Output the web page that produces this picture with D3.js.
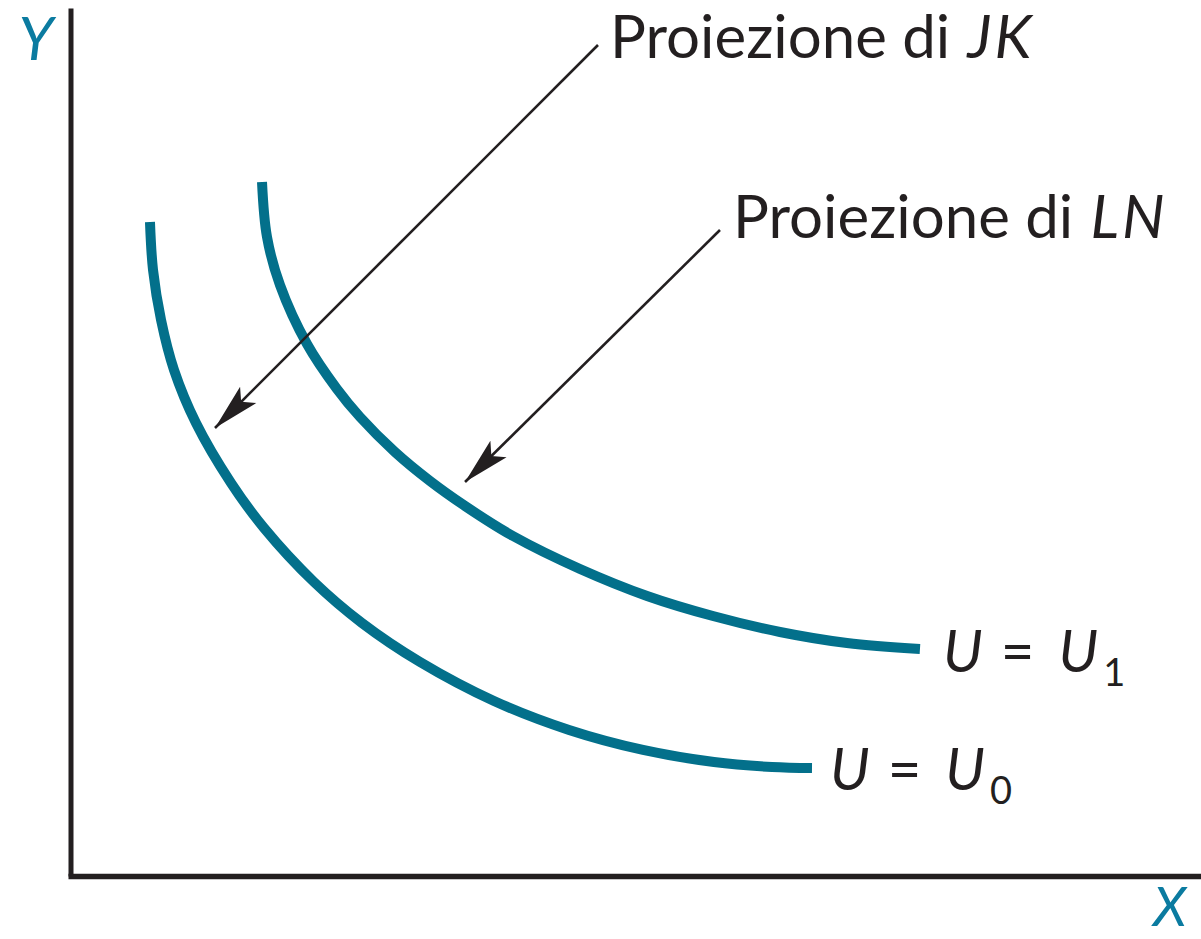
<!DOCTYPE html>
<html>
<head>
<meta charset="utf-8">
<script src="https://cdn.jsdelivr.net/npm/d3@7"></script>
<style>
  html, body { margin: 0; padding: 0; background: #fff; }
  svg { display: block; }
  text { font-family: Lato, "Open Sans", sans-serif; fill: #231f20; }
</style>
</head>
<body>
<script>
// Indifference curves (x, y in chart units 0-100)
const curveU0 = [
    [7.03, 75.35], [7.30, 69.82], [8.01, 64.06], [9.16, 58.29], [11.10, 52.19],
    [14.20, 45.28], [17.12, 40.09], [21.54, 33.87], [25.78, 29.15], [30.92, 24.65],
    [37.46, 20.16], [44.10, 16.82], [50.64, 14.52], [56.92, 13.13], [62.05, 12.56],
    [65.59, 12.44]
];
const curveU1 = [
    [16.94, 79.95], [17.38, 73.62], [18.53, 68.09], [20.92, 61.29], [23.57, 56.11],
    [25.61, 52.88], [28.70, 48.85], [31.80, 45.51], [34.90, 42.63], [39.14, 39.17],
    [45.07, 35.37], [51.00, 32.26], [56.83, 29.95], [62.76, 28.11], [68.69, 26.84],
    [75.14, 26.15]
];

// Curve labels: [x, y, subscript]
const curveLabels = [
    [67.18, 9.91, "0"],
    [77.18, 23.50, "1"]
];

// Arrows: from label to curve
const arrowFrom = [[46.66, 95.74], [57.45, 74.42]];
const arrowTo = [[12.78, 51.61], [34.90, 45.39]];
const arrowText = ["Proiezione di ", "Proiezione di "];
const arrowTextItalic = ["JK", "LN"];
const arrowTextPos = [[47.72, 94.24], [58.60, 73.50]];

const width = 1201, height = 939;
const teal = "#03708b";

const svg = d3.select("body").append("svg")
    .attr("width", width)
    .attr("height", height);

const xScale = d3.scaleLinear().domain([0, 100]).range([70.5, 1201]);
const yScale = d3.scaleLinear().domain([0, 100]).range([876, 8]);

// arrowhead
svg.append("defs").append("marker")
    .attr("id", "head")
    .attr("markerUnits", "userSpaceOnUse")
    .attr("viewBox", "-48 -14 50 28")
    .attr("refX", 0).attr("refY", 0)
    .attr("markerWidth", 50).attr("markerHeight", 28)
    .attr("orient", "auto")
    .append("path")
    .attr("d", "M0,0 L-47,-11.5 L-37,0 L-47,11.5 Z")
    .attr("fill", "#231f20");

// Axes (no ticks)
svg.append("g")
    .attr("transform", `translate(${xScale(0)},0)`)
    .call(d3.axisLeft(yScale).tickValues([]).tickSizeOuter(0))
    .select(".domain")
    .attr("stroke", "#231f20")
    .attr("stroke-width", 5);

svg.append("g")
    .attr("transform", `translate(0,${yScale(0)})`)
    .call(d3.axisBottom(d3.scaleLinear().domain([0, 100]).range([xScale(0) - 2.5, 1201])).tickValues([]).tickSizeOuter(0))
    .select(".domain")
    .attr("stroke", "#231f20")
    .attr("stroke-width", 5.5);

// Axis labels
svg.append("text")
    .attr("x", xScale(0) - 52)
    .attr("y", yScale(100) + 52)
    .attr("font-size", 60)
    .attr("font-style", "italic")
    .style("fill", "#0b7ba0")
    .text("Y");

svg.append("text")
    .attr("x", xScale(100) - 48)
    .attr("y", yScale(0) + 50)
    .attr("font-size", 55)
    .attr("font-style", "italic")
    .style("fill", "#0b7ba0")
    .text("X");

// Curves
const line = d3.line()
    .x(d => xScale(d[0]))
    .y(d => yScale(d[1]))
    .curve(d3.curveCatmullRom.alpha(0.5));

svg.selectAll("path.curve")
    .data([curveU0, curveU1])
    .enter().append("path")
    .attr("class", "curve")
    .attr("d", line)
    .attr("fill", "none")
    .attr("stroke", teal)
    .attr("stroke-width", 10)
    .attr("stroke-linecap", "butt");

// Curve labels
const lbl = svg.selectAll("text.ulabel")
    .data(curveLabels)
    .enter().append("text")
    .attr("class", "ulabel")
    .attr("x", d => xScale(d[0]))
    .attr("y", d => yScale(d[1]))
    .attr("font-size", 58);

lbl.append("tspan").attr("font-style", "italic").text("U");
lbl.append("tspan").attr("dx", 18).text("=");
lbl.append("tspan").attr("dx", 24).attr("font-style", "italic").text("U");
lbl.append("tspan").attr("font-size", 38).attr("dy", 14).attr("dx", 5).text(d => d[2]);

// Arrows
svg.selectAll("line.arrow")
    .data(arrowFrom)
    .enter().append("line")
    .attr("class", "arrow")
    .attr("x1", d => xScale(d[0]))
    .attr("y1", d => yScale(d[1]))
    .attr("x2", (d, i) => xScale(arrowTo[i][0]))
    .attr("y2", (d, i) => yScale(arrowTo[i][1]))
    .attr("stroke", "#231f20")
    .attr("stroke-width", 2.6)
    .attr("marker-end", "url(#head)");

const at = svg.selectAll("text.alabel")
    .data(arrowTextPos)
    .enter().append("text")
    .attr("class", "alabel")
    .attr("x", d => xScale(d[0]))
    .attr("y", d => yScale(d[1]))
    .attr("font-size", 60);

at.append("tspan").text((d, i) => arrowText[i]);
at.append("tspan").attr("font-style", "italic").attr("dx", 2).attr("letter-spacing", 3).text((d, i) => arrowTextItalic[i]);
</script>
</body>
</html>
